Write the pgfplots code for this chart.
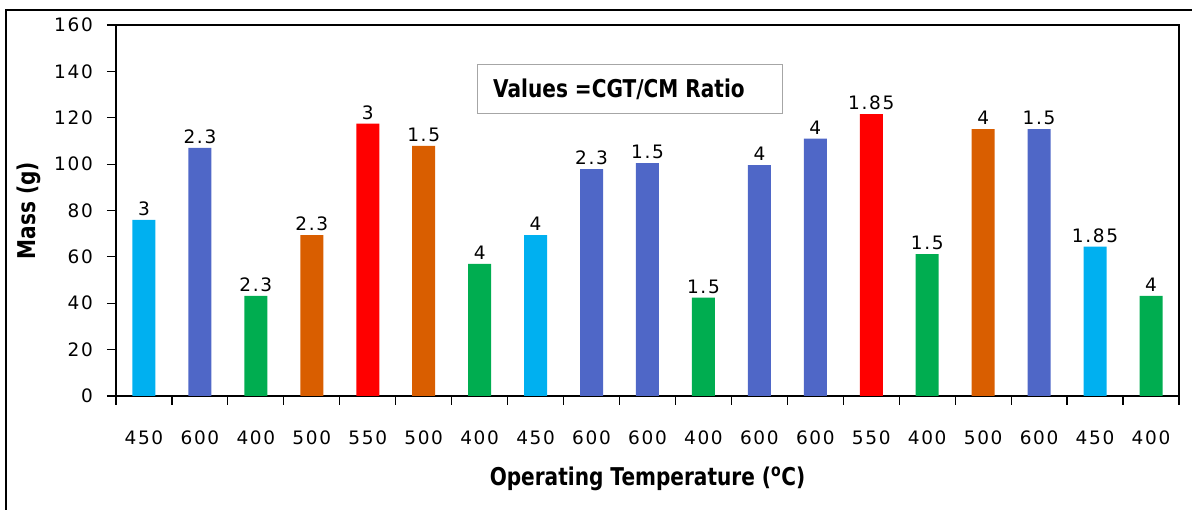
\documentclass[border=0pt]{standalone}
\usepackage{pgfplots}
\pgfplotsset{compat=1.18}
\usepackage{fontspec}
\setmainfont{DejaVu Sans}
\newfontfamily\tickfont[LetterSpace=9]{DejaVu Sans}
\newfontfamily\labfont[FakeStretch=0.82]{DejaVu Sans}
\newcommand\tf{\tickfont\fontsize{18.5}{21}\selectfont}
\newcommand\lf{\labfont\bfseries\fontsize{24.5}{28}\selectfont}
\definecolor{cA}{RGB}{0,176,240}
\definecolor{cB}{RGB}{79,103,199}
\definecolor{cC}{RGB}{0,173,80}
\definecolor{cD}{RGB}{217,94,0}
\definecolor{cE}{RGB}{255,0,0}
\begin{document}
\begin{tikzpicture}
\path[use as bounding box] (-116pt,-114pt) rectangle (1076pt,396pt);
\begin{axis}[
  at={(0pt,0pt)}, anchor=south west,
  scale only axis, width=1063pt, height=371pt,
  xmin=-0.5, xmax=18.5, ymin=0, ymax=160,
  ytick={0,20,...,160},
  xtick={-0.5,0.5,...,18.5},
  xticklabels={450,600,400,500,550,500,400,450,600,600,400,600,600,550,400,500,600,450,400,{}},
  xticklabel style={anchor=center, xshift=27.97pt, yshift=-33pt},
  /pgf/number format/assume math mode=true,
  tick pos=left, tick align=outside,
  major tick length=9pt,
  axis line style={black, line width=1.2pt},
  tick style={black, line width=1.2pt},
  tick label style={font=\tf},
  yticklabel style={anchor=east, inner sep=0pt, xshift=-14pt},
  ylabel={Mass (g)},
  xlabel={Operating Temperature (\textsuperscript{o}C)},
  every axis y label/.style={at={(axis description cs:0,0.5)}, xshift=-87.5pt, rotate=90, anchor=center, font=\lf},
  every axis x label/.style={at={(axis description cs:0.5,0)}, yshift=-83pt, anchor=center, font=\lf},
  ybar, bar width=23pt,
  nodes near coords,
  point meta=explicit symbolic,
  every node near coord/.style={font=\tf, anchor=south, inner sep=0pt, yshift=4pt, black},
]
\addplot[ybar, bar shift=0pt, fill=cA, draw=none] coordinates {(0,76) [3] (7,69.4) [4] (17,64.4) [1.85]};
\addplot[ybar, bar shift=0pt, fill=cB, draw=none] coordinates {(1,107) [2.3] (8,97.8) [2.3] (9,100.4) [1.5] (11,99.6) [4] (12,111) [4] (16,115.1) [1.5]};
\addplot[ybar, bar shift=0pt, fill=cC, draw=none] coordinates {(2,43.2) [2.3] (6,57) [4] (10,42.4) [1.5] (14,61.2) [1.5] (18,43.2) [4]};
\addplot[ybar, bar shift=0pt, fill=cD, draw=none] coordinates {(3,69.4) [2.3] (5,107.9) [1.5] (15,115.1) [4]};
\addplot[ybar, bar shift=0pt, fill=cE, draw=none] coordinates {(4,117.5) [3] (13,121.6) [1.85]};
\end{axis}
\draw[line width=1.3pt] (-110pt,-130pt) -- (-110pt,386pt) -- (1090pt,386pt);
\draw[gray!70, line width=1pt] (361pt,282pt) rectangle (666pt,331pt);
\node[anchor=west, inner sep=0pt] at (377pt,306.5pt) {\lf Values =CGT/CM Ratio};
\end{tikzpicture}
\end{document}
